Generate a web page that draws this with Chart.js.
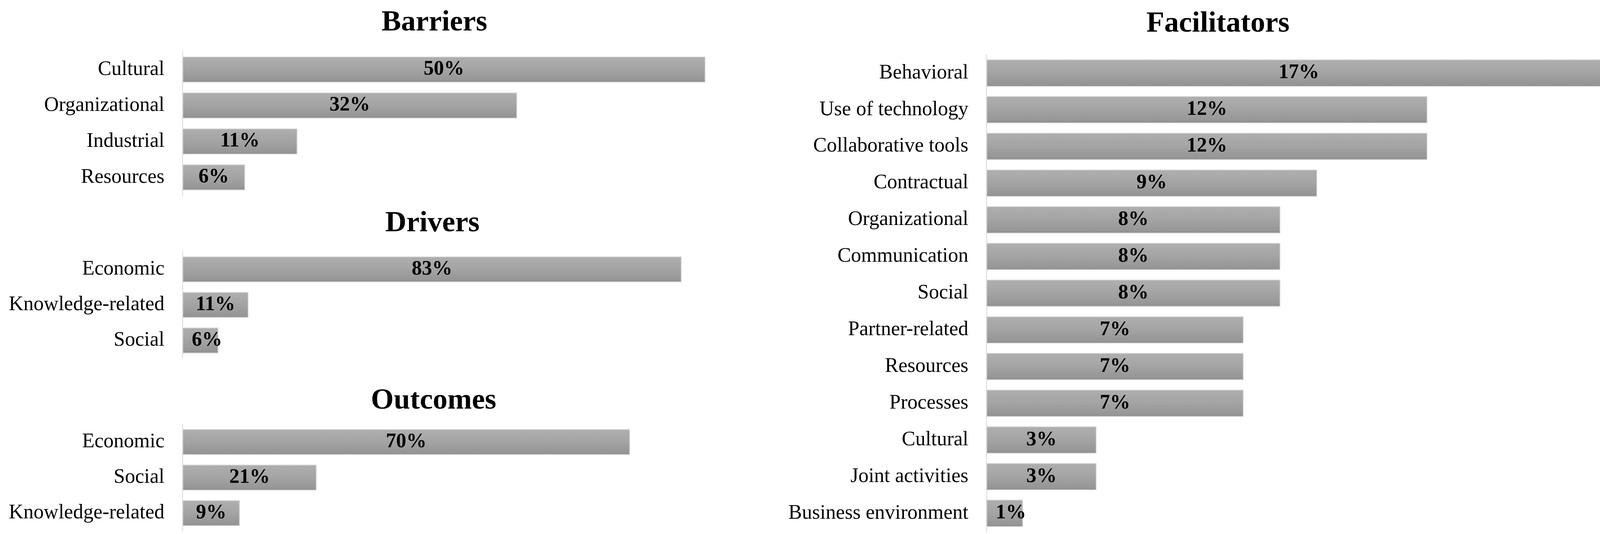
<!DOCTYPE html>
<html>
<head>
<meta charset="utf-8">
<script src="https://cdn.jsdelivr.net/npm/chart.js@4.4.1/dist/chart.umd.min.js"></script>
<style>
html, body { margin: 0; padding: 0; background: #fff; overflow: hidden; width: 4149px; height: 1367px; }
canvas { position: absolute; }
.title { position: absolute; width: 800px; text-align: center; font: bold 75px/75px "Liberation Serif", "Times New Roman", serif; color: #000; }
</style>
</head>
<body>

<div class="title" style="left:712px; top:15px;">Barriers</div>
<div class="title" style="left:707px; top:529px;">Drivers</div>
<div class="title" style="left:710px; top:983px;">Outcomes</div>
<div class="title" style="left:2718px; top:18px;">Facilitators</div>

<canvas id="barriersChart" width="1816" height="448" style="left:0; top:92px;"></canvas>
<canvas id="driversChart" width="1755" height="353" style="left:0; top:604px;"></canvas>
<canvas id="outcomesChart" width="1623" height="353" style="left:0; top:1046px;"></canvas>
<canvas id="facilitatorsChart" width="2175" height="1301" style="left:1960px; top:100px;"></canvas>

<script>
// data
const barrierLabels = ['Cultural', 'Organizational', 'Industrial', 'Resources'];
const barrierValues = [50, 32, 11, 6];

const driverLabels = ['Economic', 'Knowledge-related', 'Social'];
const driverValues = [83, 11, 6];

const outcomeLabels = ['Economic', 'Social', 'Knowledge-related'];
const outcomeValues = [70, 21, 9];

const facilitatorLabels = ['Behavioral', 'Use of technology', 'Collaborative tools', 'Contractual',
  'Organizational', 'Communication', 'Social', 'Partner-related', 'Resources', 'Processes',
  'Cultural', 'Joint activities', 'Business environment'];
const facilitatorValues = [17, 12, 12, 9, 8, 8, 8, 7, 7, 7, 3, 3, 1];

const serif = '"Liberation Serif", "Times New Roman", serif';

// grey bar with a top-to-bottom shade, like the office chart
function barFill(context) {
  const chart = context.chart;
  if (!chart.chartArea || context.dataIndex === undefined) return '#a2a2a2';
  const yScale = chart.scales.y;
  const band = yScale.height / chart.data.labels.length;
  const half = band * context.dataset.barPercentage / 2;
  const mid = yScale.getPixelForValue(context.dataIndex);
  const g = chart.ctx.createLinearGradient(0, mid - half, 0, mid + half);
  g.addColorStop(0, '#afafaf');
  g.addColorStop(0.45, '#a5a5a5');
  g.addColorStop(0.9, '#969696');
  g.addColorStop(1, '#8b8b8b');
  return g;
}

// percent labels in the middle of each bar
const valueLabels = {
  id: 'valueLabels',
  afterDatasetsDraw(chart) {
    const ctx = chart.ctx;
    const meta = chart.getDatasetMeta(0);
    const values = chart.data.datasets[0].data;
    ctx.save();
    ctx.font = 'bold 52px ' + serif;
    ctx.fillStyle = '#000';
    ctx.textAlign = 'center';
    ctx.textBaseline = 'middle';
    meta.data.forEach(function(bar, i) {
      const text = values[i] + '%';
      const w = ctx.measureText(text).width;
      let x = (bar.x + bar.base) / 2;
      x = Math.max(x, bar.base + 24 + w / 2);
      ctx.fillText(text, x, bar.y);
    });
    ctx.restore();
  }
};

function makePanel(id, labels, values, axisWidth, barPct) {
  return new Chart(document.getElementById(id), {
    type: 'bar',
    data: {
      labels: labels,
      datasets: [{
        data: values,
        backgroundColor: barFill,
        borderColor: '#d9d9d9',
        borderWidth: 2,
        borderSkipped: false,
        barPercentage: barPct,
        categoryPercentage: 1
      }]
    },
    options: {
      indexAxis: 'y',
      responsive: false,
      animation: false,
      events: [],
      layout: { padding: { left: 0, right: 10, top: 40, bottom: 40 } },
      plugins: {
        legend: { display: false },
        title: { display: false },
        tooltip: { enabled: false }
      },
      scales: {
        x: {
          display: false,
          min: 0,
          max: Math.max.apply(null, values)
        },
        y: {
          grid: {
            display: true,
            drawOnChartArea: false,
            drawTicks: true,
            tickLength: 43,
            color: 'rgba(0,0,0,0)',
            tickColor: 'rgba(0,0,0,0)'
          },
          border: { display: true, color: '#e3e3e3', width: 3 },
          ticks: {
            color: '#000',
            padding: 3,
            font: { family: serif, size: 52 }
          },
          afterFit: function(scale) { scale.width = axisWidth; }
        }
      }
    },
    plugins: [valueLabels]
  });
}

const barriersChart = makePanel('barriersChart', barrierLabels, barrierValues, 467, 0.73);
const driversChart = makePanel('driversChart', driverLabels, driverValues, 467, 0.73);
const outcomesChart = makePanel('outcomesChart', outcomeLabels, outcomeValues, 467, 0.73);
const facilitatorsChart = makePanel('facilitatorsChart', facilitatorLabels, facilitatorValues, 565, 0.745);
</script>
</body>
</html>
